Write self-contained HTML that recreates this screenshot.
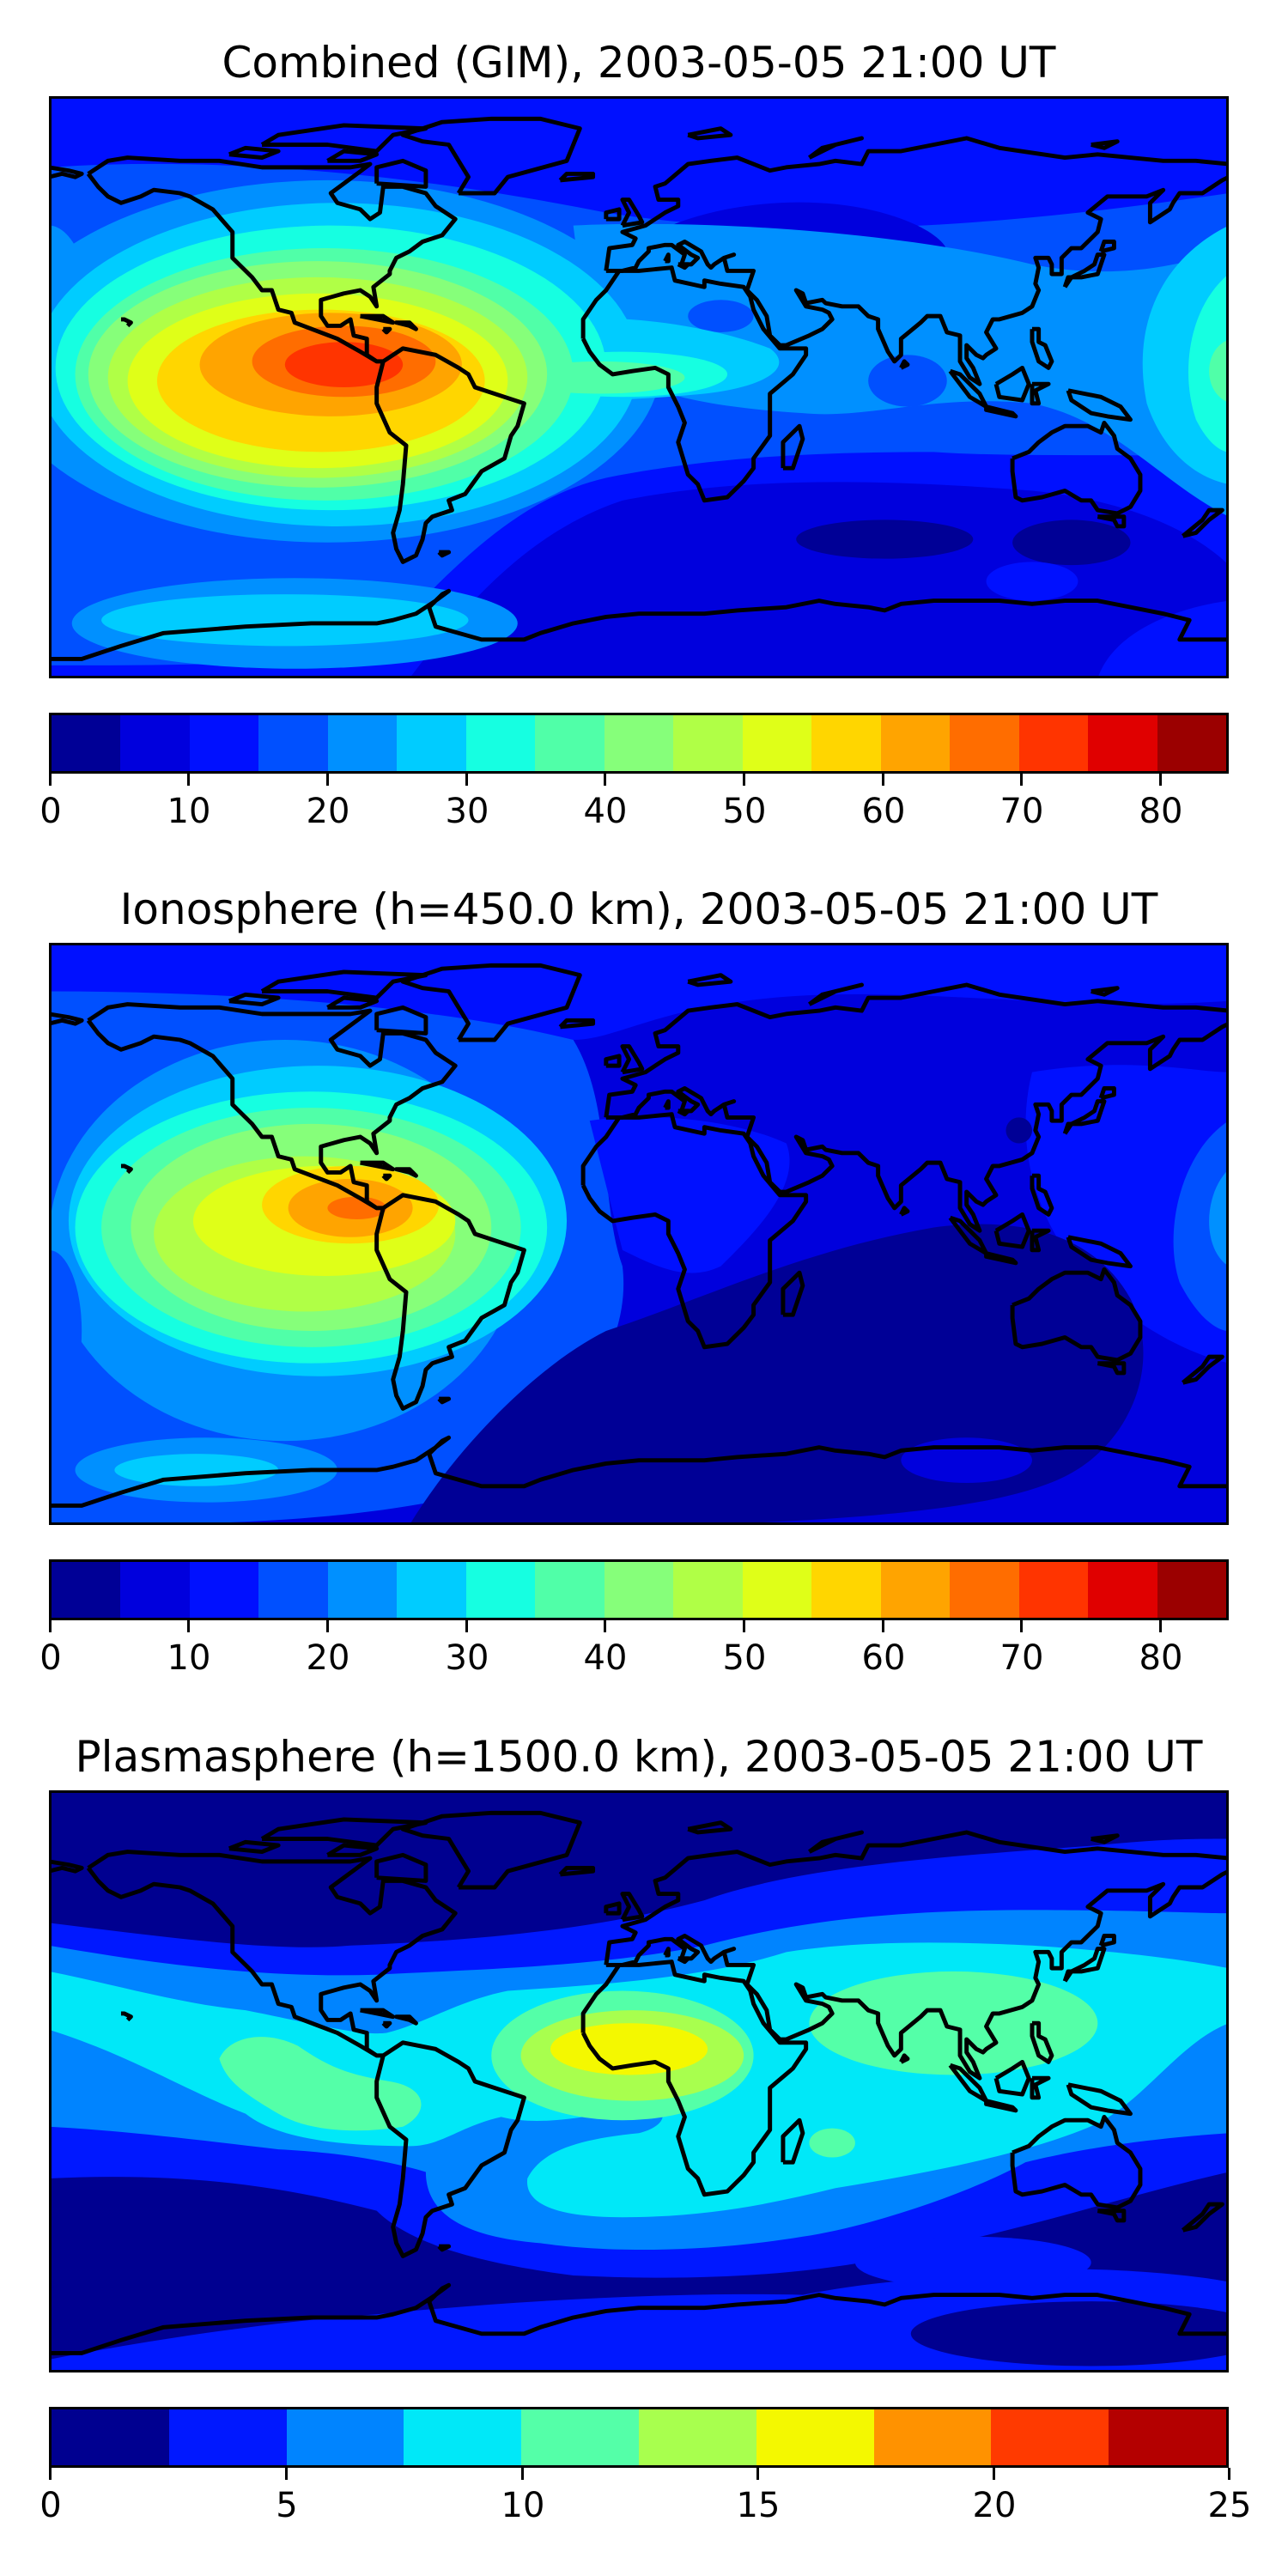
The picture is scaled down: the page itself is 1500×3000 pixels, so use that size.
<!DOCTYPE html>
<html><head><meta charset="utf-8">
<style>
body{margin:0;background:#fff;width:1500px;height:3000px;position:relative;overflow:hidden;font-family:"DejaVu Sans","Liberation Sans",sans-serif;}
.t{position:absolute;left:0;width:1488px;text-align:center;font-size:50px;line-height:50px;color:#000;white-space:nowrap;}
.m{position:absolute;left:57px;width:1374px;height:678px;}
.m svg{position:absolute;left:0;top:0;width:1374px;height:678px;}
.bd{position:absolute;left:0;top:0;width:1368px;height:672px;border:3px solid #000;}
.cb{position:absolute;left:57px;width:1368px;height:65px;border:3px solid #000;display:flex;}
.cb div{flex:1;}
.tk{position:absolute;width:3px;height:14px;background:#000;}
.lb{position:absolute;width:100px;margin-left:-50px;text-align:center;font-size:40px;line-height:40px;}
</style></head><body>
<svg width="0" height="0" style="position:absolute">
<defs>
<g id="coast" fill="none" stroke="#000" stroke-width="1.3" stroke-linejoin="round" transform="translate(180,90) scale(1,-1)">
<polyline points="-168,66 -162,70 -156,71 -140,70 -128,70 -115,68 -95,68 -88,68 -82,69 -86,66 -94,60 -92,57 -85,55 -82,52 -79,54 -78,62 -72,62 -65,60 -62,56 -56,52 -60,47 -66,45 -70,42 -74,40 -76,36 -76,35 -81,31 -80,25 -82,28 -85,30 -90,29 -97,27 -97,22 -95,19 -91,19 -88,21 -87,16 -83,15 -83,10 -80,8 -78,8 -80,8 -85,11 -92,15 -105,20 -106,23 -110,24 -112,30 -115,30 -118,34 -124,40 -124,48 -130,55 -137,59 -140,60 -148,61 -152,59 -158,57 -162,59 -165,62 -168,66"/>
<polyline points="-78,8 -72,12 -62,10 -55,6 -52,4 -50,0 -44,-2 -35,-5 -37,-12 -39,-15 -41,-22 -48,-26 -53,-33 -58,-35 -57,-38 -63,-40 -65,-42 -66,-47 -68,-52 -72,-54 -74,-50 -75,-45 -73,-38 -72,-30 -71,-18 -76,-14 -80,-5 -80,0 -78,8"/>
<polyline points="-55,60 -44,60 -40,65 -22,70 -20,75 -18,80 -30,83 -45,83 -60,82 -72,78 -66,76 -58,75 -55,70 -52,65 -55,60"/>
<polyline points="-17,15 -17,21 -13,27 -10,30 -6,36 0,36 10,37 11,33 20,31 20,33 25,32 32,31 34,28 35,24 38,18 43,12 51,12 51,10 47,4 40,-2 40,-10 40,-15 35,-22 35,-25 32,-29 27,-34 20,-35 18,-30 15,-27 12,-17 14,-11 12,-6 9,0 9,4 5,6 -2,5 -8,4 -12,7 -15,11 -17,15"/>
<polyline points="-10,36 -9,43 -2,44 -1,46 -5,48 2,50 5,52 8,54 10,55 12,56 12,58 6,58 5,62 8,63 15,69 22,70 30,71 40,67 45,68 55,69 60,70 68,69 70,73 80,73 90,75 100,77 110,74 130,71 140,72 150,71 160,70 170,70 180,69"/>
<polyline points="180,65 178,64 172,60 165,60 163,57 162,55 156,51 156,57 160,61 155,59 143,59 137,54 141,52 140,48 135,43 132,43 129,40 129,35 126,35 126,38 125,40 121,40 122,37 121,32 122,30 120,25 117,23 110,21 108,21 106,17 109,12 106,10 105,9 103,10 100,13 100,9 102,6 104,1 101,3 98,8 98,16 94,17 92,22 88,22 86,20 80,15 80,10 78,8 76,11 73,18 73,21 70,22 67,25 62,25 57,26 56,27 51,26 50,29 48,30 51,25 56,24 58,23 59,21 56,18 52,16 45,13 43,13 40,16 39,22 36,27 33,30 35,36 30,36 27,36 26,40 29,41 26,40 23,38 22,37 21,38 20,40 19,42 14,45 12,44 16,41 18,40 16,38 13,38 14,41 10,44 8,44 3,43 3,42 0,39 -1,37 -5,36 -10,36"/>
<polyline points="114,-22 114,-26 115,-34 117,-35 123,-34 130,-32 135,-35 138,-35 140,-38 146,-39 150,-37 153,-32 153,-27 150,-22 146,-19 145,-15 142,-11 141,-14 137,-12 136,-12 130,-12 126,-14 122,-17 119,-20 114,-22"/>
<polyline points="-180,-84 -170,-84 -158,-80 -145,-76 -120,-74 -100,-73 -80,-73 -75,-72 -68,-70 -62,-66 -58,-63 -60,-64 -64,-68 -62,-74 -48,-78 -35,-78 -30,-76 -20,-73 -10,-71 0,-70 20,-70 30,-69 45,-68 55,-66 60,-67 70,-68 75,-69 80,-67 90,-66 100,-66 110,-66 120,-67 130,-66 140,-66 150,-68 160,-70 168,-72 166,-76 165,-78 180,-78"/>
<polyline points="-5,50 -3,54 -5,58 -3,58 0,53 1,51 -5,50"/>
<polyline points="-10,52 -6,52 -6,55 -10,54 -10,52"/>
<polyline points="-24,64 -14,65 -14,66 -22,66 -24,64"/>
<polyline points="130,31 131,34 135,34 140,35 141,38 142,41 140,41 139,38 136,36 132,34 130,31"/>
<polyline points="141,42 145,43 145,45 142,45 141,42"/>
<polyline points="95,5 98,4 104,-2 106,-6 101,-3 95,5"/>
<polyline points="106,-6 114,-8 115,-9 106,-7 106,-6"/>
<polyline points="109,1 110,-3 117,-4 119,1 117,6 114,4 109,1"/>
<polyline points="120,1 125,1 121,-1 122,-5 120,-5 120,1"/>
<polyline points="131,-1 141,-3 147,-6 150,-10 143,-9 138,-8 132,-4 131,-1"/>
<polyline points="120,18 122,18 122,14 124,13 126,8 125,6 122,8 120,14 120,18"/>
<polyline points="44,-25 47,-25 50,-16 49,-12 44,-17 44,-25"/>
<polyline points="166,-46 172,-41 174,-38 178,-38 174,-41 170,-45 166,-46"/>
<polyline points="-115,75 -95,75 -80,73 -75,78 -65,80 -90,81 -110,78 -115,75"/>
<polyline points="-125,72 -115,71 -110,73 -120,74 -125,72"/>
<polyline points="-95,70 -85,70 -80,72 -90,73 -95,70"/>
<polyline points="-80,63 -65,62 -65,67 -72,70 -80,68 -80,63"/>
<polyline points="-70,19 -74,20 -70,20 -68,18 -70,19"/>
<polyline points="-85,22 -78,22 -75,20 -80,21 -85,22"/>
<polyline points="-78,18 -76,18 -77,17 -78,18"/>
<polyline points="-156,19 -155,20 -157,21 -158,21"/>
<polyline points="-180,65 -176,66 -172,65 -170,66 -174,67 -180,68"/>
<polyline points="15,78 25,80 28,78 18,77 15,78"/>
<polyline points="52,71 56,74 68,77 60,75 52,71"/>
<polyline points="138,75 146,76 142,74 138,75"/>
<polyline points="-61,-51 -58,-51 -60,-52 -61,-51"/>
<polyline points="140,-40 148,-40 148,-43 146,-43 145,-41 140,-40"/>
<polyline points="8,39 9,41 9,39 8,39"/>
<polyline points="12,38 15,38 14,37 12,38"/>
<polyline points="80,6 81,8 82,7 80,6"/>
</g>
</defs></svg>

<div class="t" style="top:48px">Combined (GIM), 2003-05-05 21:00 UT</div>
<div class="m" style="top:112px">
<svg viewBox="0 0 360 180" preserveAspectRatio="none">
<rect width="360" height="180" fill="#0010ff"/>
<path d="M0,22 C60,18 120,26 170,36 C220,44 280,42 360,30 L360,112 C330,110 300,112 270,110 C230,110 200,112 170,118 C140,125 120,150 100,170 C80,176 40,176 0,176 Z" fill="#0050ff"/>
<path d="M110,180 C125,160 145,135 175,125 C210,118 250,118 300,122 C330,125 350,135 360,145 L360,180 Z" fill="#0000dd"/>
<path d="M320,180 C325,165 345,158 360,156 L360,180 Z" fill="#0010ff"/>
<path d="M180,45 C200,32 240,28 265,40 C285,50 270,60 250,52 C230,48 215,55 200,50 Z" fill="#0000dd"/>
<ellipse cx="255" cy="137" rx="27" ry="6" fill="#000096"/>
<ellipse cx="312" cy="138" rx="18" ry="7" fill="#000096"/>
<ellipse cx="300" cy="150" rx="14" ry="6" fill="#0010ff"/>
<path d="M160,40 C200,38 260,42 300,52 C330,58 350,50 360,48 L360,130 C340,120 325,100 300,95 C270,92 250,100 230,98 C200,96 180,92 165,80 Z" fill="#0090ff"/>
<ellipse cx="205" cy="68" rx="10" ry="5" fill="#0050ff"/>
<ellipse cx="262" cy="88" rx="12" ry="8" fill="#0050ff"/>
<ellipse cx="75" cy="163" rx="68" ry="14" fill="#0090ff"/>
<ellipse cx="72" cy="162" rx="56" ry="8" fill="#00ccff"/>
<ellipse cx="85" cy="82" rx="102" ry="56" fill="#0090ff"/>
<ellipse cx="0" cy="75" rx="14" ry="35" fill="#0090ff"/>
<ellipse cx="88" cy="83" rx="92" ry="50" fill="#00ccff"/>
<path d="M150,70 C175,66 205,72 220,78 C228,84 218,90 200,92 C180,94 165,94 150,95 Z" fill="#00ccff"/>
<path d="M360,40 C340,50 330,70 335,95 C340,110 350,118 360,120 Z" fill="#00ccff"/>
<ellipse cx="86" cy="84" rx="84" ry="44" fill="#16ffe1"/>
<ellipse cx="175" cy="86" rx="32" ry="7" fill="#16ffe1"/>
<path d="M360,55 C348,65 345,85 350,100 C354,108 358,110 360,110 Z" fill="#16ffe1"/>
<ellipse cx="84" cy="86" rx="76" ry="39" fill="#50ffa8"/>
<ellipse cx="168" cy="87" rx="26" ry="5" fill="#50ffa8"/>
<ellipse cx="362" cy="85" rx="8" ry="10" fill="#50ffa8"/>
<ellipse cx="82" cy="86" rx="70" ry="35" fill="#86ff7a"/>
<ellipse cx="82" cy="87" rx="64" ry="31" fill="#b0ff46"/>
<ellipse cx="82" cy="88" rx="58" ry="27" fill="#dfff18"/>
<ellipse cx="83" cy="88" rx="50" ry="22" fill="#ffd600"/>
<ellipse cx="86" cy="83" rx="40" ry="16" fill="#ffa400"/>
<ellipse cx="90" cy="82" rx="28" ry="11" fill="#ff6d00"/>
<ellipse cx="90" cy="83" rx="18" ry="7" fill="#ff3400"/>
<use href="#coast"/>
</svg><div class="bd"></div></div>
<div class="cb" style="top:830px">
<div style="background:#000096"></div><div style="background:#0000dd"></div><div style="background:#0010ff"></div><div style="background:#0050ff"></div><div style="background:#0090ff"></div><div style="background:#00ccff"></div><div style="background:#16ffe1"></div><div style="background:#50ffa8"></div><div style="background:#86ff7a"></div><div style="background:#b0ff46"></div><div style="background:#dfff18"></div><div style="background:#ffd600"></div><div style="background:#ffa400"></div><div style="background:#ff6d00"></div><div style="background:#ff3400"></div><div style="background:#e00000"></div><div style="background:#9b0000"></div>
</div>

<div class="t" style="top:1034px">Ionosphere  (h=450.0 km), 2003-05-05 21:00 UT</div>
<div class="m" style="top:1098px">
<svg viewBox="0 0 360 180" preserveAspectRatio="none">
<rect width="360" height="180" fill="#0000dd"/>
<path d="M0,0 L360,0 L360,18 C300,22 250,10 200,20 C180,24 170,30 160,30 L0,30 Z" fill="#0010ff"/>
<path d="M0,15 C60,15 120,20 160,30 C172,50 168,80 175,100 C178,125 160,150 130,170 C90,180 40,180 0,180 Z" fill="#0050ff"/>
<path d="M165,55 C185,52 210,55 225,62 C230,75 215,90 205,100 C195,105 185,100 175,95 Z" fill="#0010ff"/>
<path d="M300,40 C330,35 350,40 360,40 L360,130 C340,125 320,110 310,95 C300,80 295,60 300,40 Z" fill="#0010ff"/>
<path d="M110,180 C125,155 150,130 170,120 C200,110 230,95 270,88 C300,84 320,92 330,110 C340,130 330,155 310,165 C290,175 250,178 200,180 Z" fill="#000096"/>
<ellipse cx="296" cy="58" rx="4" ry="4" fill="#000096"/>
<ellipse cx="280" cy="160" rx="20" ry="7" fill="#0000dd"/>
<ellipse cx="72" cy="92" rx="72" ry="62" fill="#0090ff"/>
<ellipse cx="0" cy="120" rx="10" ry="25" fill="#0050ff"/>
<path d="M360,55 C345,65 340,90 345,105 C350,115 356,120 360,120 Z" fill="#0050ff"/>
<path d="M360,70 C352,78 352,95 360,100 Z" fill="#0090ff"/>
<ellipse cx="48" cy="163" rx="40" ry="10" fill="#0090ff"/>
<ellipse cx="45" cy="163" rx="25" ry="5" fill="#00ccff"/>
<ellipse cx="82" cy="86" rx="76" ry="48" fill="#00ccff"/>
<ellipse cx="80" cy="88" rx="72" ry="42" fill="#16ffe1"/>
<ellipse cx="80" cy="88" rx="64" ry="37" fill="#50ffa8"/>
<ellipse cx="80" cy="88" rx="55" ry="32" fill="#86ff7a"/>
<ellipse cx="78" cy="90" rx="46" ry="24" fill="#b0ff46"/>
<ellipse cx="84" cy="86" rx="40" ry="17" fill="#dfff18"/>
<ellipse cx="92" cy="81" rx="27" ry="12" fill="#ffd600"/>
<ellipse cx="92" cy="82" rx="19" ry="9" fill="#ffa400"/>
<ellipse cx="94" cy="82" rx="9" ry="3.5" fill="#ff6d00"/>
<use href="#coast"/>
</svg><div class="bd"></div></div>
<div class="cb" style="top:1816px">
<div style="background:#000096"></div><div style="background:#0000dd"></div><div style="background:#0010ff"></div><div style="background:#0050ff"></div><div style="background:#0090ff"></div><div style="background:#00ccff"></div><div style="background:#16ffe1"></div><div style="background:#50ffa8"></div><div style="background:#86ff7a"></div><div style="background:#b0ff46"></div><div style="background:#dfff18"></div><div style="background:#ffd600"></div><div style="background:#ffa400"></div><div style="background:#ff6d00"></div><div style="background:#ff3400"></div><div style="background:#e00000"></div><div style="background:#9b0000"></div>
</div>

<div class="t" style="top:2021px">Plasmasphere (h=1500.0 km), 2003-05-05 21:00 UT</div>
<div class="m" style="top:2085px">
<svg viewBox="0 0 360 180" preserveAspectRatio="none">
<rect width="360" height="180" fill="#000090"/>
<path d="M0,41 C40,46 70,50 92,48 C140,46 170,42 200,34 C230,23 280,20 320,17 C340,15 350,15 360,15 L360,118 C330,125 300,135 275,140 C240,150 200,152 160,150 C130,146 110,140 100,130 C70,122 40,118 0,120 Z" fill="#0018ff"/>
<path d="M0,176 C30,170 70,164 100,162 C140,158 190,155 230,156 C260,150 290,150 310,148 C330,148 350,150 360,152 L360,180 L0,180 Z" fill="#0018ff"/>
<ellipse cx="318" cy="168" rx="55" ry="10" fill="#000090"/>
<ellipse cx="282" cy="146" rx="36" ry="8" fill="#0018ff"/>
<path d="M0,48 C40,55 70,58 100,57 C140,55 170,54 200,48 C230,40 260,37 300,37 C330,37 350,38 360,38 L360,106 C330,108 310,112 298,115 C280,125 250,135 230,138 C200,143 170,143 150,140 C125,138 115,130 115,118 C105,115 90,112 70,111 C45,108 20,105 0,104 Z" fill="#0084ff"/>
<path d="M0,56 C20,60 40,66 60,68 C80,72 95,76 103,75 C115,72 125,65 140,62 C170,60 200,58 225,50 C250,46 280,47 300,48 C330,50 350,53 360,55 L360,72 C345,78 335,95 320,103 C300,112 270,118 240,123 C220,128 200,132 175,132 C155,132 145,128 146,120 C150,112 160,108 180,106 C188,104 190,99 183,97 C165,101 150,104 138,101 C125,104 120,110 110,110 C90,110 70,108 60,100 C40,92 25,82 0,74 Z" fill="#00e8f8"/>
<path d="M52,83 C55,76 66,74 76,79 C86,86 92,88 104,90 C116,92 116,100 108,104 C96,106 80,106 70,100 C60,94 54,90 52,83 Z" fill="#54ffa8"/>
<ellipse cx="175" cy="82" rx="40" ry="20" fill="#54ffa8"/>
<ellipse cx="276" cy="72" rx="44" ry="16" fill="#54ffa8"/>
<ellipse cx="239" cy="109" rx="7" ry="4.5" fill="#54ffa8"/>
<ellipse cx="178" cy="82" rx="34" ry="14" fill="#a8ff4e"/>
<ellipse cx="177" cy="80" rx="24" ry="8" fill="#f4f800"/>
<use href="#coast"/>
</svg><div class="bd"></div></div>
<div class="cb" style="top:2803px">
<div style="background:#000090"></div><div style="background:#0018ff"></div><div style="background:#0084ff"></div><div style="background:#00e8f8"></div><div style="background:#54ffa8"></div><div style="background:#a8ff4e"></div><div style="background:#f4f800"></div><div style="background:#ff9200"></div><div style="background:#ff3a00"></div><div style="background:#b40000"></div>
</div>

<div class="tk" style="left:57px;top:901px"></div><div class="tk" style="left:218px;top:901px"></div><div class="tk" style="left:380px;top:901px"></div><div class="tk" style="left:542px;top:901px"></div><div class="tk" style="left:703px;top:901px"></div><div class="tk" style="left:865px;top:901px"></div><div class="tk" style="left:1027px;top:901px"></div><div class="tk" style="left:1188px;top:901px"></div><div class="tk" style="left:1350px;top:901px"></div>
<div class="lb" style="left:59px;top:925px">0</div><div class="lb" style="left:220px;top:925px">10</div><div class="lb" style="left:382px;top:925px">20</div><div class="lb" style="left:544px;top:925px">30</div><div class="lb" style="left:705px;top:925px">40</div><div class="lb" style="left:867px;top:925px">50</div><div class="lb" style="left:1029px;top:925px">60</div><div class="lb" style="left:1190px;top:925px">70</div><div class="lb" style="left:1352px;top:925px">80</div>
<div class="tk" style="left:57px;top:1887px"></div><div class="tk" style="left:218px;top:1887px"></div><div class="tk" style="left:380px;top:1887px"></div><div class="tk" style="left:542px;top:1887px"></div><div class="tk" style="left:703px;top:1887px"></div><div class="tk" style="left:865px;top:1887px"></div><div class="tk" style="left:1027px;top:1887px"></div><div class="tk" style="left:1188px;top:1887px"></div><div class="tk" style="left:1350px;top:1887px"></div>
<div class="lb" style="left:59px;top:1911px">0</div><div class="lb" style="left:220px;top:1911px">10</div><div class="lb" style="left:382px;top:1911px">20</div><div class="lb" style="left:544px;top:1911px">30</div><div class="lb" style="left:705px;top:1911px">40</div><div class="lb" style="left:867px;top:1911px">50</div><div class="lb" style="left:1029px;top:1911px">60</div><div class="lb" style="left:1190px;top:1911px">70</div><div class="lb" style="left:1352px;top:1911px">80</div>
<div class="tk" style="left:57px;top:2874px"></div><div class="tk" style="left:332px;top:2874px"></div><div class="tk" style="left:607px;top:2874px"></div><div class="tk" style="left:881px;top:2874px"></div><div class="tk" style="left:1156px;top:2874px"></div><div class="tk" style="left:1430px;top:2874px"></div>
<div class="lb" style="left:59px;top:2898px">0</div><div class="lb" style="left:334px;top:2898px">5</div><div class="lb" style="left:609px;top:2898px">10</div><div class="lb" style="left:883px;top:2898px">15</div><div class="lb" style="left:1158px;top:2898px">20</div><div class="lb" style="left:1432px;top:2898px">25</div>
</body></html>
